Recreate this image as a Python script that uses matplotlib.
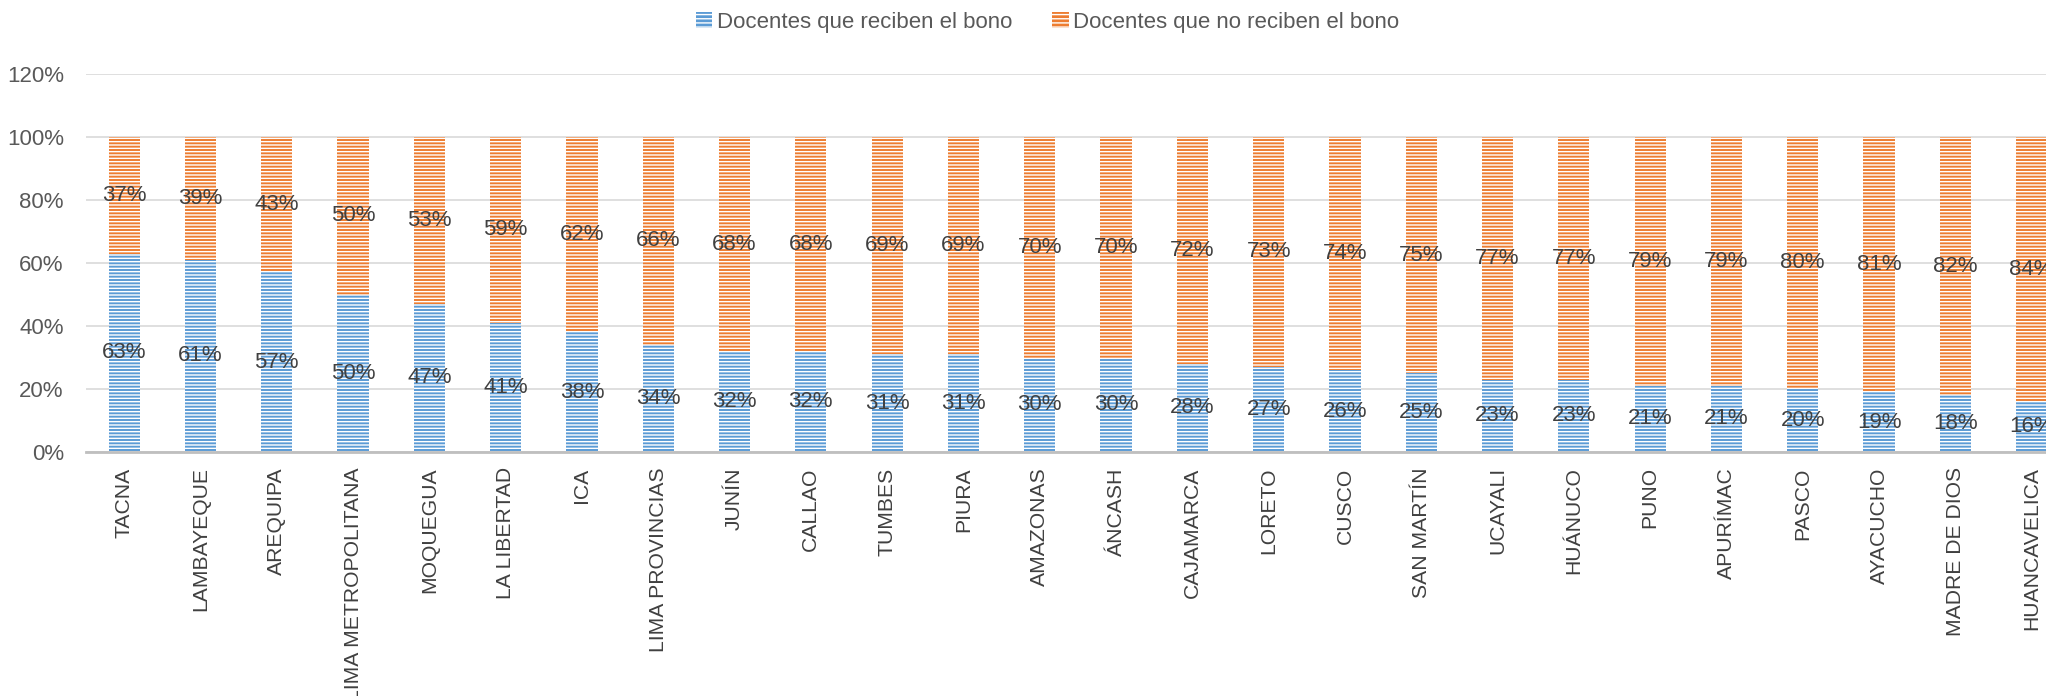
import numpy as np
import matplotlib
matplotlib.use("Agg")
import matplotlib.pyplot as plt
from matplotlib.patches import Patch

plt.rcParams['font.family'] = ['Liberation Sans Narrow', 'Liberation Sans', 'DejaVu Sans']
plt.rcParams['hatch.linewidth'] = 1.0

# Data
regiones = ["TACNA", "LAMBAYEQUE", "AREQUIPA", "LIMA METROPOLITANA", "MOQUEGUA",
            "LA LIBERTAD", "ICA", "LIMA PROVINCIAS", "JUNÍN", "CALLAO", "TUMBES",
            "PIURA", "AMAZONAS", "ÁNCASH", "CAJAMARCA", "LORETO", "CUSCO",
            "SAN MARTÍN", "UCAYALI", "HUÁNUCO", "PUNO", "APURÍMAC", "PASCO",
            "AYACUCHO", "MADRE DE DIOS", "HUANCAVELICA"]
reciben = [63, 61, 57, 50, 47, 41, 38, 34, 32, 32, 31, 31, 30, 30, 28, 27, 26,
           25, 23, 23, 21, 21, 20, 19, 18, 16]
no_reciben = [37, 39, 43, 50, 53, 59, 62, 66, 68, 68, 69, 69, 70, 70, 72, 73, 74,
              75, 77, 77, 79, 79, 80, 81, 82, 84]
series_names = ["Docentes que reciben el bono", "Docentes que no reciben el bono"]

blue = "#5B9BD5"
orange = "#ED7D31"
hatch = "-----"

fig = plt.figure(figsize=(20.46, 6.96), dpi=100)
ax = fig.add_axes([86 / 2046, 1 - 452 / 696, 1 - 86 / 2046, (452 - 74) / 696])

x = np.arange(len(regiones))
ax.bar(x, reciben, width=0.41, color=blue, edgecolor="white",
       linewidth=0, hatch=hatch, zorder=3)
ax.bar(x, no_reciben, width=0.41, bottom=reciben, color=orange,
       edgecolor="white", linewidth=0, hatch=hatch, zorder=3)

# data labels centred in each segment
for i in range(len(regiones)):
    ax.text(x[i], reciben[i] / 2, f"{reciben[i]}%", ha="center", va="center",
            fontsize=16, color="#404040", zorder=4)
    ax.text(x[i], reciben[i] + no_reciben[i] / 2, f"{no_reciben[i]}%",
            ha="center", va="center", fontsize=16, color="#404040", zorder=4)

ax.set_ylim(0, 120)
ax.set_xlim(-0.5, -0.5 + (2046 - 86) / 76.3)
ax.set_yticks(range(0, 121, 20))
ax.set_yticklabels([f"{v}%" for v in range(0, 121, 20)])
ax.set_xticks(x)
ax.set_xticklabels(regiones, rotation=90, ha="center", va="top")
ax.tick_params(axis="y", length=0, labelsize=16, labelcolor="#595959", pad=16)
ax.tick_params(axis="x", length=0, labelsize=15.2, labelcolor="#404040", pad=11)
ax.grid(axis="y", color="#D9D9D9", linewidth=1.2, zorder=0)
for s in ["top", "right", "left"]:
    ax.spines[s].set_visible(False)
ax.spines["bottom"].set_color("#BFBFBF")
ax.spines["bottom"].set_linewidth(2)
ax.spines["bottom"].set_zorder(5)

handles = [Patch(facecolor=blue, edgecolor="white", linewidth=0, hatch="----"),
           Patch(facecolor=orange, edgecolor="white", linewidth=0, hatch="----")]
fig.legend(handles, series_names, loc="center", bbox_to_anchor=(0.512, 0.968),
           ncol=2, frameon=False, fontsize=16, labelcolor="#595959",
           handlelength=0.75, handleheight=0.75, handletextpad=0.2,
           columnspacing=1.8)

plt.savefig("out.png", dpi=100)
